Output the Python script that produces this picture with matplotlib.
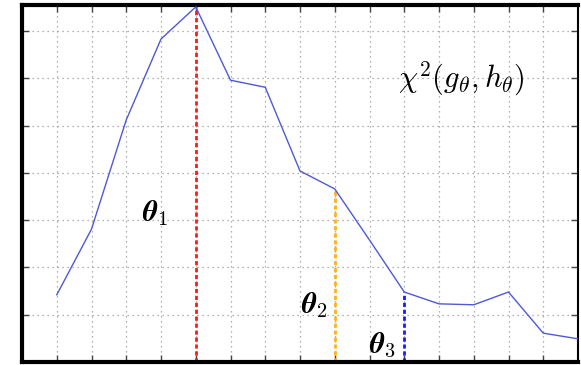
import matplotlib
matplotlib.use("Agg")
import matplotlib.pyplot as plt

plt.rcParams['mathtext.fontset'] = 'cm'

# curve values
xs = [1, 2, 3, 4, 5, 6, 7, 8, 9, 10, 11, 12, 13, 14, 15, 16]
chi2 = [1.42, 2.81, 5.12, 6.83, 7.51, 5.96, 5.81, 4.04, 3.66, 2.58, 1.48, 1.23, 1.21, 1.48, 0.61, 0.49]

# thresholds marked on the curve
thetas = [5, 9, 11]
theta_colors = ['#ff1a1a', '#ffb020', '#1a1aff']
theta_labels = [r'$\boldsymbol{\theta}_1$', r'$\boldsymbol{\theta}_2$', r'$\boldsymbol{\theta}_3$']
label_pos = [(3.83, 3.15), (8.43, 1.2), (10.39, 0.36)]

fig = plt.figure(figsize=(5.81, 3.65), dpi=100)
ax = fig.add_axes([22 / 581, 3 / 365, 556 / 581, 357 / 365])

ax.plot(xs, chi2, color='#5058d8', lw=1.0, zorder=3)

for t, c in zip(thetas, theta_colors):
    ytop = chi2[xs.index(t)]
    ax.plot([t, t], [0, ytop], color=c, lw=2.0, ls=(0, (1.5, 1.0)), zorder=2)

for lab, (lx, ly) in zip(theta_labels, label_pos):
    ax.text(lx, ly, lab, fontsize=21, ha='center', va='center')

ax.text(12.63, 6.0, r'$\chi^2(g_\theta, h_\theta)$', fontsize=22, ha='center', va='center')

ax.set_xlim(0, 16)
ax.set_ylim(0, 7.55)
ax.set_xticks(range(1, 16))
ax.set_yticks(range(1, 8))
ax.set_xticklabels([])
ax.set_yticklabels([])
ax.tick_params(direction='in', length=5, width=1, top=True, right=True, color='#444444')
ax.grid(True, ls=(0, (1, 3)), color='#999999', lw=0.9)

for side in ['left', 'top', 'bottom']:
    ax.spines[side].set_linewidth(3)
ax.spines['right'].set_linewidth(1.5)

fig.savefig('out.png', dpi=100)
